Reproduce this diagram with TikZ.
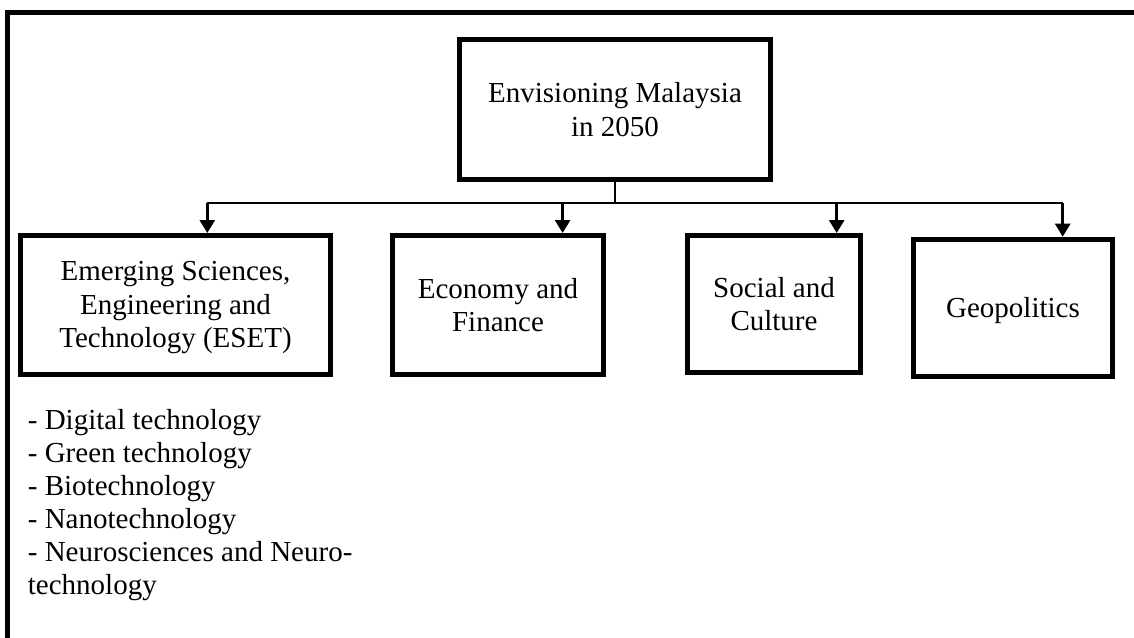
\documentclass[tikz,border=0pt]{standalone}
\usepackage{fontspec}
\setmainfont{Liberation Serif}
\usetikzlibrary{arrows.meta}
\tikzset{
  frameline/.style={line width=2.6pt},
  boxnode/.style={draw=black, line width=2.5pt, inner sep=0pt},
  boxtext/.style={align=center, inner sep=0pt, font=\fontsize{14.5pt}{16.7pt}\selectfont},
  busline/.style={line width=1.1pt},
  arrowline/.style={line width=1.4pt, -{Triangle[width=7.5pt,length=6.5pt]}},
  itemtext/.style={inner sep=0pt, font=\fontsize{14.5pt}{16.55pt}\selectfont}
}
\begin{document}
\begin{tikzpicture}[x=0.5pt,y=-0.5pt]
  % page area and outer frame (its top and left sides run off the page)
  \useasboundingbox (0,0) rectangle (1134,637);
  \fill[white] (0,0) rectangle (1134,637);
  \begin{scope}
    \clip (0,0) rectangle (1134,637);
    \draw[frameline] (1150,12.7) -- (7.8,12.7) -- (7.8,650);
  \end{scope}

  % root box
  \node[boxnode, minimum width=155.5pt, minimum height=70pt] (top) at (615,109.5) {};
  \node[boxtext] (toptext) at (top.center) {Envisioning Malaysia\\in 2050};

  % theme boxes
  \node[boxnode, minimum width=155pt, minimum height=69.5pt] (eset) at (175.5,305) {};
  \node[boxtext, yshift=-1.3pt] (esettext) at (eset.center)
    {Emerging Sciences,\\Engineering and\\Technology (ESET)};

  \node[boxnode, minimum width=105.5pt, minimum height=69.5pt] (econ) at (498,305) {};
  \node[boxtext] (econtext) at (econ.center) {Economy and\\Finance};

  \node[boxnode, minimum width=86.5pt, minimum height=68.5pt] (soc) at (774,304) {};
  \node[boxtext] (soctext) at (soc.center) {Social and\\Culture};

  \node[boxnode, minimum width=99.5pt, minimum height=68.8pt] (geo) at (1013,308) {};
  \node[boxtext, yshift=-1.5pt] (geotext) at (geo.center) {Geopolitics};

  % branching connectors
  \coordinate (busL) at (207.3,203.3);
  \coordinate (busE) at (562.6,203.3);
  \coordinate (busS) at (836.7,203.3);
  \coordinate (busR) at (1062.7,203.3);
  \draw[busline] (top.south) -- (top.south |- busL);
  \draw[busline] (busL) -- (busR);
  \draw[arrowline] (busL) -- (busL |- eset.north);
  \draw[arrowline] (busE) -- (busE |- econ.north);
  \draw[arrowline] (busS) -- (busS |- soc.north);
  \draw[arrowline] (busR) -- (busR |- geo.north);

  % ESET sub-areas
  \node[itemtext, anchor=base west] (esetitems) at (27.5,429.3) {%
    \begin{tabular}[t]{@{}l@{}}
      - Digital technology\\
      - Green technology\\
      - Biotechnology\\
      - Nanotechnology\\
      - Neurosciences and Neuro-\\
      technology
    \end{tabular}};
\end{tikzpicture}
\end{document}
